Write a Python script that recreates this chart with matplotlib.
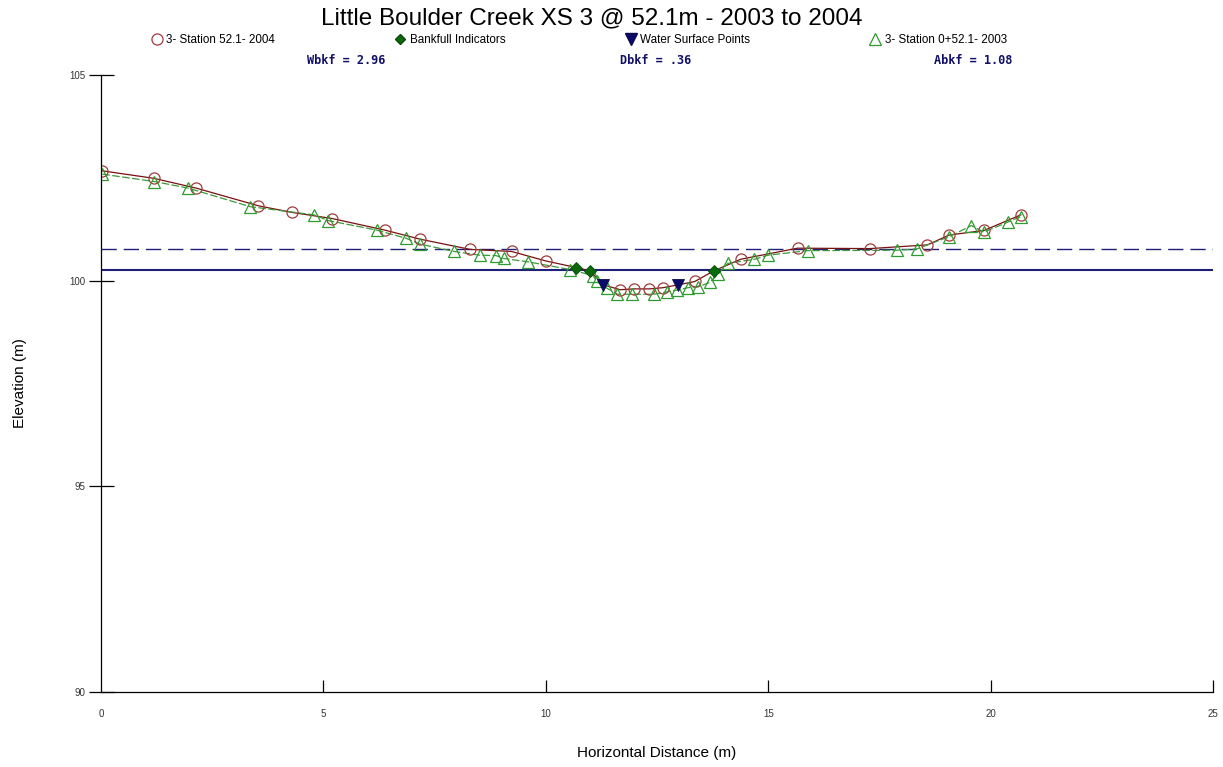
import matplotlib
matplotlib.use("Agg")
import matplotlib.pyplot as plt
from matplotlib.lines import Line2D

plt.rcParams['font.family'] = ['Liberation Sans', 'DejaVu Sans']

# 2004 survey (circles)
x_2004 = [0.03, 1.18, 2.14, 3.54, 4.29, 5.20, 6.38, 7.17, 8.30, 9.23, 10.0,
          11.67, 11.98, 12.33, 12.64, 13.35, 14.38, 15.66, 17.29, 18.58,
          19.07, 19.85, 20.68]
y_2004 = [102.67, 102.49, 102.25, 101.82, 101.66, 101.51, 101.23, 101.01,
          100.76, 100.71, 100.48, 99.78, 99.80, 99.80, 99.83, 99.98, 100.52,
          100.79, 100.78, 100.87, 101.11, 101.22, 101.60]

# 2003 survey (triangles)
x_2003 = [0.03, 1.20, 1.96, 3.35, 4.79, 5.11, 6.20, 6.86, 7.17, 7.94, 8.51,
          8.88, 9.05, 9.59, 10.55, 11.07, 11.14, 11.37, 11.61, 11.93, 12.43,
          12.73, 12.94, 13.20, 13.43, 13.69, 13.88, 14.09, 14.69, 15.0, 15.89,
          17.89, 18.34, 19.07, 19.57, 19.85, 20.40, 20.68]
y_2003 = [102.59, 102.41, 102.25, 101.80, 101.60, 101.46, 101.23, 101.03,
          100.89, 100.71, 100.62, 100.61, 100.54, 100.46, 100.27, 100.12,
          99.98, 99.82, 99.67, 99.67, 99.67, 99.73, 99.77, 99.83, 99.85, 99.96,
          100.17, 100.42, 100.52, 100.62, 100.73, 100.74, 100.77, 101.07,
          101.34, 101.18, 101.43, 101.56]

bkf_x = [10.68, 10.99, 13.78]
bkf_y = [100.32, 100.24, 100.24]
ws_x = [11.29, 12.98]
ws_y = [99.90, 99.90]

bankfull_elev = 100.77
water_elev = 100.26

title = "Little Boulder Creek XS 3 @ 52.1m - 2003 to 2004"
stats = ["Wbkf = 2.96", "Dbkf = .36", "Abkf = 1.08"]

# 2004 line runs through the bankfull and water-surface shots too
line04 = sorted(zip(x_2004 + bkf_x + ws_x, y_2004 + bkf_y + ws_y))

fig = plt.figure(figsize=(12.23, 7.67), dpi=100)
ax = fig.add_axes([0.0826, 0.0978, 0.9092, 0.8044])

ax.axhline(bankfull_elev, color='#1f1f7a', lw=1.0, ls=(0, (11, 5)))
ax.axhline(water_elev, color='#1f1f7a', lw=1.5)

ax.plot([p[0] for p in line04], [p[1] for p in line04], color='#7a1010', lw=0.9)
ax.plot(x_2003, y_2003, color='#3a9a3a', lw=0.9, ls=(0, (6, 2)))

ax.plot(x_2004, y_2004, ls='none', marker='o', ms=8, mfc='none',
        mec='#a03c3c', mew=0.9)
ax.plot(x_2003, y_2003, ls='none', marker='^', ms=9, mfc='none',
        mec='#2f9a2f', mew=0.9)
ax.plot(bkf_x, bkf_y, ls='none', marker='D', ms=6, mfc='#0a6a0a',
        mec='#0a4a0a', mew=0.6)
ax.plot(ws_x, ws_y, ls='none', marker='v', ms=8, mfc='#0a0a6a',
        mec='#0a0a4a', mew=0.6)

ax.set_xlim(0, 25)
ax.set_ylim(90, 105)
ax.set_xticks([0, 5, 10, 15, 20, 25])
ax.set_yticks([90, 95, 100, 105])
for s in ['top', 'right']:
    ax.spines[s].set_visible(False)
for s in ['left', 'bottom']:
    ax.spines[s].set_linewidth(0.9)
ax.tick_params(axis='y', direction='inout', length=18, width=0.9,
               labelsize=7, pad=2, labelcolor='#333333')
ax.tick_params(axis='x', direction='in', length=9, width=0.9,
               labelsize=7, pad=12, labelcolor='#333333')
# no tick at x=0 origin duplicating the axis
ax.xaxis.get_major_ticks()[0].tick1line.set_visible(False)

ax.set_xlabel("Horizontal Distance (m)", fontsize=11)
ax.xaxis.set_label_coords(0.5, -0.088)
ax.set_ylabel("Elevation (m)", fontsize=11)
ax.yaxis.set_label_coords(-0.067, 0.5)

fig.text(0.4837, 0.976, title, ha='center', va='center', fontsize=17.5)

handles = [
    Line2D([], [], ls='none', marker='o', ms=8, mfc='none', mec='#a03c3c', mew=0.9),
    Line2D([], [], ls='none', marker='D', ms=5, mfc='#0a6a0a', mec='#0a4a0a'),
    Line2D([], [], ls='none', marker='v', ms=8, mfc='#0a0a6a', mec='#0a0a4a'),
    Line2D([], [], ls='none', marker='^', ms=9, mfc='none', mec='#2f9a2f', mew=0.9),
]
labels = ["3- Station 52.1- 2004", "Bankfull Indicators",
          "Water Surface Points", "3- Station 0+52.1- 2003"]
fig.legend(handles, labels, ncol=4, loc='center left', bbox_to_anchor=(0.1238, 0.948),
           frameon=False, fontsize=8.4, handlelength=0.9, handletextpad=0.35,
           columnspacing=10.3, borderaxespad=0, borderpad=0)

for xp, s in zip([0.283, 0.536, 0.796], stats):
    fig.text(xp, 0.921, s, ha='center', va='center', fontsize=8.6,
             family='DejaVu Sans Mono', fontweight='bold', color='#10106a')

fig.savefig("out.png", dpi=100)
